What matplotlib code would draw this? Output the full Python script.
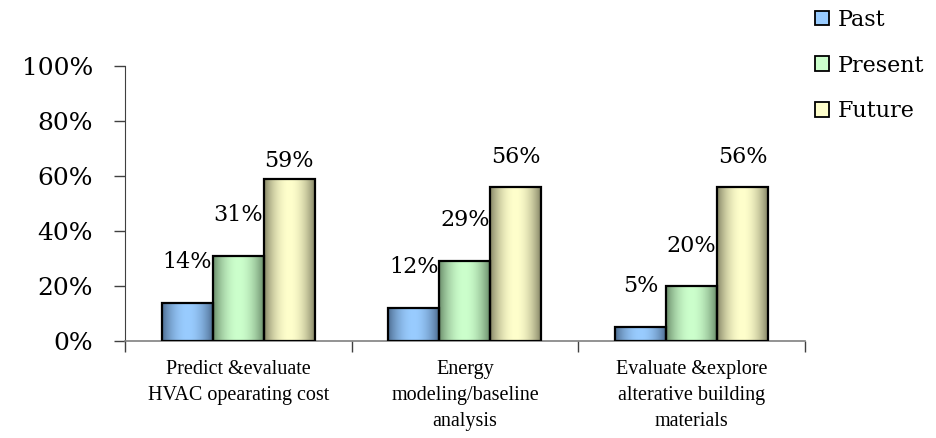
import numpy as np
import matplotlib
matplotlib.use("Agg")
import matplotlib.pyplot as plt
from matplotlib.patches import Patch
from matplotlib.ticker import PercentFormatter

# Survey data: share of respondents using building simulation per task
categories = [
    "Predict &evaluate\nHVAC opearating cost",
    "Energy\nmodeling/baseline\nanalysis",
    "Evaluate &explore\nalterative building\nmaterials",
]
series_names = ["Past", "Present", "Future"]
past = [0.14, 0.12, 0.05]
present = [0.31, 0.29, 0.20]
future = [0.59, 0.56, 0.56]
values = [past, present, future]

# light centre / dark edge colours for the cylinder-like shading
light_cols = [(0.60, 0.80, 1.00), (0.80, 1.00, 0.80), (1.00, 1.00, 0.80)]
dark_cols = [(0.29, 0.41, 0.55), (0.40, 0.53, 0.40), (0.50, 0.50, 0.38)]
label_offsets = [[30, 30, 30], [30, 30, 29], [7, 19, 19]]  # px above bar top

W, H, DPI = 937, 438, 100
fig = plt.figure(figsize=(W / DPI, H / DPI), dpi=DPI)
ax = fig.add_axes([125 / W, 1 - 341 / H, 680 / W, 275 / H])

x = np.arange(len(categories)) + 0.5
bw = 0.225

t = np.linspace(0, 1, 200)
prof = np.sin(np.pi * t) ** 0.8

for i, (vals, lc, dc) in enumerate(zip(values, light_cols, dark_cols)):
    lc, dc = np.array(lc), np.array(dc)
    grad = dc[None, :] + (lc - dc)[None, :] * prof[:, None]
    img = grad[None, :, :]
    xs = x + (i - 1) * bw
    bars = ax.bar(xs, vals, width=bw, facecolor="none", edgecolor="black",
                  linewidth=1.6, zorder=3)
    for j, b in enumerate(bars):
        x0, w_, h_ = b.get_x(), b.get_width(), b.get_height()
        im = ax.imshow(img, extent=(x0, x0 + w_, 0, h_), aspect="auto",
                       zorder=2, interpolation="bilinear")
        im.set_clip_path(b)
        ax.annotate(f"{vals[j]:.0%}", (xs[j], vals[j]),
                    xytext=(0, label_offsets[i][j] * 72 / DPI),
                    textcoords="offset points", ha="center", va="bottom",
                    fontsize=16, family="DejaVu Serif", color="black")

ax.set_xlim(0, 3)
ax.set_ylim(0, 1)
ax.yaxis.set_major_locator(plt.MultipleLocator(0.2))
ax.yaxis.set_major_formatter(PercentFormatter(1.0, decimals=0))
ax.set_xticks([0, 1, 2, 3])
ax.set_xticklabels([])
ax.set_xticks(x, minor=True)
ax.set_xticklabels(categories, minor=True, fontsize=14.5,
                   family="Liberation Serif", linespacing=1.5)
ax.tick_params(axis="x", which="minor", length=0, pad=14)
ax.tick_params(axis="x", which="major", length=8, direction="out",
               color="#404040", width=1)
ax.tick_params(axis="y", length=8, direction="out", color="#404040",
               width=1, pad=15, labelsize=18)
for lab in ax.get_yticklabels():
    lab.set_family("DejaVu Serif")

for s in ["top", "right"]:
    ax.spines[s].set_visible(False)
ax.spines["left"].set_color("#404040")
ax.spines["bottom"].set_color("#808080")
ax.spines["bottom"].set_linewidth(1.2)

handles = [Patch(facecolor=c, edgecolor="black", linewidth=1.3)
           for c in light_cols]
fig.legend(handles, series_names, loc="upper left",
           bbox_to_anchor=(815 / W, 1 - 9 / H), frameon=False,
           prop={"family": "DejaVu Serif", "size": 16},
           handlelength=0.63, handleheight=0.63, handletextpad=0.4,
           labelspacing=1.06, borderpad=0, borderaxespad=0)

fig.savefig("out.png", dpi=DPI)
